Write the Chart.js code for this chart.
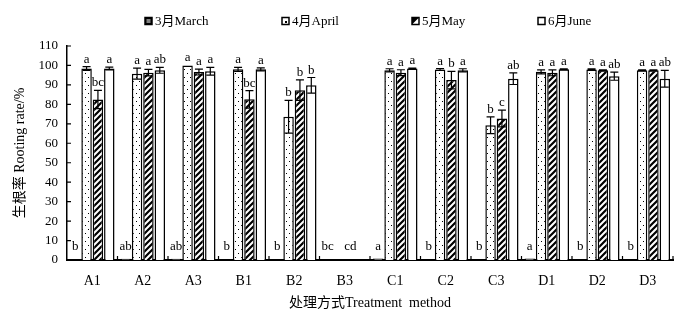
<!DOCTYPE html>
<html>
<head>
<meta charset="utf-8">
<script src="https://cdn.jsdelivr.net/npm/chart.js@4/dist/chart.umd.min.js"></script>
<style>
  html, body { margin: 0; padding: 0; background: #fff; }
</style>
</head>
<body>
<canvas id="chart" width="700" height="317"></canvas>
<script>
const categories = ["A1", "A2", "A3", "B1", "B2", "B3", "C1", "C2", "C3", "D1", "D2", "D3"];
const seriesNames = ["3月March", "4月April", "5月May", "6月June"];

const marchValues = [0, 0.6, 0.6, 0, 0, 0, 0.8, 0, 0, 0.8, 0, 0];
const aprilValues = [98.4, 95.8, 100, 98, 73.6, 0, 97.5, 97.9, 69.3, 96.7, 97.9, 97.5];
const mayValues = [82.5, 96.3, 96.6, 82.6, 87.3, 0, 96.3, 92.5, 72.7, 96.2, 97.5, 97.5];
const juneValues = [98.4, 97.5, 97, 98, 89.8, 0, 98.4, 97.5, 93.2, 98, 94.5, 93.2];

const marchErr = [0, 0, 0, 0, 0, 0, 0, 0, 0, 0, 0, 0];
const aprilErr = [1, 2.8, 0, 1, 8.4, 0, 0.8, 0.5, 4.3, 1, 0.3, 0.3];
const mayErr = [4.7, 1.7, 1.5, 4.5, 5.3, 0, 1.5, 4.5, 4.3, 1.5, 0.3, 0.3];
const juneErr = [0.7, 1.5, 2, 0.8, 4, 0, 0.3, 0.8, 3, 0.3, 2.1, 4.3];

const marchLetters = ["b", "ab", "ab", "b", "b", "bc", "a", "b", "b", "a", "b", "b"];
const aprilLetters = ["a", "a", "a", "a", "b", "", "a", "a", "b", "a", "a", "a"];
const mayLetters = ["bc", "a", "a", "bc", "b", "cd", "a", "b", "c", "a", "a", "a"];
const juneLetters = ["a", "ab", "a", "a", "b", "", "a", "a", "ab", "a", "ab", "ab"];

const yTicks = [0, 10, 20, 30, 40, 50, 60, 70, 80, 90, 100, 110];

const errorSets = [marchErr, aprilErr, mayErr, juneErr];
const letterSets = [marchLetters, aprilLetters, mayLetters, juneLetters];
const FONT = "'Liberation Serif', 'Noto Sans CJK SC', serif";

// fill patterns
const makeDots = () => {
  const c = document.createElement("canvas");
  c.width = 6; c.height = 8;
  const g = c.getContext("2d");
  g.fillStyle = "#fff"; g.fillRect(0, 0, 6, 8);
  g.fillStyle = "#000";
  g.fillRect(1, 1, 1, 1);
  g.fillRect(4, 5, 1, 1);
  return g.createPattern(c, "repeat");
};
const makeHatch = () => {
  const s = 6;
  const c = document.createElement("canvas");
  c.width = s; c.height = s;
  const g = c.getContext("2d");
  g.fillStyle = "#fff"; g.fillRect(0, 0, s, s);
  g.strokeStyle = "#000"; g.lineWidth = 2.2;
  g.beginPath();
  g.moveTo(-1, s + 1); g.lineTo(s + 1, -1);
  g.moveTo(-1, 1); g.lineTo(1, -1);
  g.moveTo(s - 1, s + 1); g.lineTo(s + 1, s - 1);
  g.stroke();
  return g.createPattern(c, "repeat");
};
const ctx0 = document.getElementById("chart").getContext("2d");
const fills = ["#888", makeDots(), makeHatch(), "#fff"];

const overlay = {
  id: "overlay",
  afterDatasetsDraw(chart) {
    const ctx = chart.ctx;
    const ys = chart.scales.y;
    const area = chart.chartArea;
    const zeroY = ys.getPixelForValue(0);
    ctx.save();
    ctx.strokeStyle = "#000";
    ctx.fillStyle = "#000";
    ctx.font = "13px " + FONT;
    ctx.textAlign = "center";
    ctx.textBaseline = "alphabetic";

    // error bars + letters
    errorSets.forEach((errs, di) => {
      const meta = chart.getDatasetMeta(di);
      const vals = chart.data.datasets[di].data;
      meta.data.forEach((bar, i) => {
        const v = vals[i];
        const e = errs[i];
        if (e > 0) {
          const y1 = ys.getPixelForValue(v + e);
          const y2 = ys.getPixelForValue(v - e);
          ctx.lineWidth = 1.2;
          ctx.beginPath();
          ctx.moveTo(bar.x, y1); ctx.lineTo(bar.x, y2);
          ctx.moveTo(bar.x - 4, y1); ctx.lineTo(bar.x + 4, y1);
          ctx.moveTo(bar.x - 4, y2); ctx.lineTo(bar.x + 4, y2);
          ctx.stroke();
        }
        const top = ys.getPixelForValue(v + e);
        const ty = Math.min(top - 4, zeroY - 10);
        ctx.fillText(letterSets[di][i], bar.x, ty);
      });
    });

    // inward ticks
    ctx.lineWidth = 1.2;
    ctx.beginPath();
    yTicks.forEach((t) => {
      const py = ys.getPixelForValue(t);
      ctx.moveTo(area.left, py); ctx.lineTo(area.left + 4, py);
    });
    const step = (area.right - area.left) / categories.length;
    for (let i = 1; i <= categories.length; i++) {
      const px = area.left + i * step;
      ctx.moveTo(px, area.bottom); ctx.lineTo(px, area.bottom - 4);
    }
    ctx.stroke();

    // legend
    const legendX = [145, 282, 412, 538];
    const ly = 21;
    ctx.textAlign = "left";
    ctx.textBaseline = "middle";
    seriesNames.forEach((name, i) => {
      const x0 = legendX[i];
      ctx.lineWidth = 1.5;
      ctx.fillStyle = "#fff";
      ctx.fillRect(x0, ly - 3.5, 7, 7);
      ctx.fillStyle = "#000";
      if (i === 0) {
        ctx.fillRect(x0, ly - 3.5, 7, 7);
        ctx.fillStyle = "#fff";
        ctx.fillRect(x0 + 1.5, ly - 1.5, 4, 1);
        ctx.fillRect(x0 + 1.5, ly + 0.5, 4, 1);
      } else if (i === 1) {
        ctx.fillRect(x0 + 3, ly, 2, 2);
      } else if (i === 2) {
        ctx.beginPath();
        ctx.moveTo(x0, ly + 3.5); ctx.lineTo(x0 + 7, ly - 3.5); ctx.lineTo(x0, ly - 3.5);
        ctx.closePath(); ctx.fill();
      }
      ctx.strokeRect(x0, ly - 3.5, 7, 7);
      ctx.fillStyle = "#000";
      ctx.fillText(name, x0 + 10, ly + 1);
    });
    ctx.restore();
  },
};

new Chart(ctx0, {
  type: "bar",
  data: {
    labels: categories,
    datasets: [
      { label: seriesNames[0], data: marchValues },
      { label: seriesNames[1], data: aprilValues },
      { label: seriesNames[2], data: mayValues },
      { label: seriesNames[3], data: juneValues },
    ].map((d, i) => ({
      ...d,
      backgroundColor: fills[i],
      borderColor: "#000",
      borderWidth: 1.5,
      categoryPercentage: 0.9,
      barPercentage: 0.92,
    })),
  },
  options: {
    responsive: false,
    animation: false,
    devicePixelRatio: 1,
    layout: { padding: { top: 46, right: 27, left: 0, bottom: 5 } },
    plugins: {
      legend: { display: false },
      tooltip: { enabled: false },
    },
    scales: {
      x: {
        grid: { display: false, drawTicks: false },
        border: { display: true, color: "#000", width: 2 },
        ticks: { color: "#000", font: { family: FONT, size: 14 }, padding: 13, autoSkip: false },
        title: {
          display: true,
          text: "处理方式Treatment  method",
          color: "#000",
          font: { family: FONT, size: 14 },
          padding: { top: 0, bottom: 0 },
        },
        afterFit: (scale) => { scale.height = 52; },
      },
      y: {
        min: 0,
        max: 110,
        grid: { display: false, drawTicks: false },
        border: { display: true, color: "#000", width: 1.5 },
        ticks: {
          stepSize: 10,
          autoSkip: false,
          color: "#000",
          font: { family: FONT, size: 13 },
          padding: 9,
        },
        title: {
          display: true,
          text: "生根率 Rooting rate/%",
          color: "#000",
          font: { family: FONT, size: 14 },
          padding: { top: 12, bottom: 4 },
        },
        afterFit: (scale) => { scale.width = 67; },
      },
    },
  },
  plugins: [overlay],
});
</script>
</body>
</html>
